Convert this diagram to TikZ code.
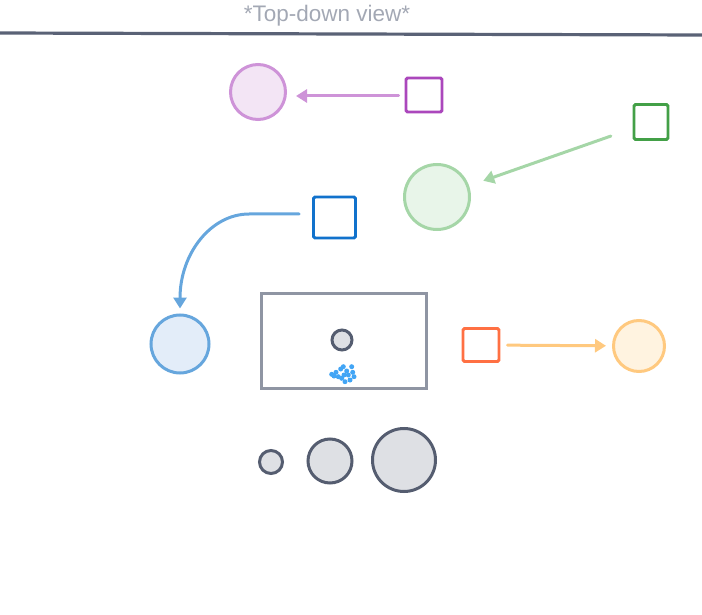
\documentclass[tikz,border=0pt]{standalone}
\usepackage{fontspec}
\setmainfont{Liberation Sans}
\usetikzlibrary{arrows.meta}
\definecolor{titlegray}{HTML}{A3A8B4}
\definecolor{linegray}{HTML}{5A6276}
\definecolor{rectgray}{HTML}{8F95A3}
\definecolor{dotblue}{HTML}{42A5F5}
\definecolor{pstroke}{HTML}{CE93D8}
\definecolor{pfill}{HTML}{F3E5F5}
\definecolor{psq}{HTML}{AB47BC}
\definecolor{gstroke}{HTML}{A5D6A7}
\definecolor{gfill}{HTML}{E8F5E9}
\definecolor{gsq}{HTML}{43A047}
\definecolor{bstroke}{HTML}{66A6DD}
\definecolor{bfill}{HTML}{E3EDF9}
\definecolor{bsq}{HTML}{1172CC}
\definecolor{ostroke}{HTML}{FFC97F}
\definecolor{ofill}{HTML}{FFF3E0}
\definecolor{osq}{HTML}{FF7043}
\definecolor{cfill}{HTML}{DEE0E4}
\definecolor{cstroke}{HTML}{555D70}
\tikzset{
  disc/.style={circle, draw, line width=3pt, inner sep=0pt},
  sqbox/.style={rectangle, draw, line width=2.9pt, fill=white, inner sep=0pt, rounded corners=1.5pt},
  conn/.style={line width=3pt, line cap=round, -{Triangle[length=11pt,width=13pt]}},
  seat/.style={disc, fill=cfill, draw=cstroke},
  blob/.style={circle, fill=dotblue, inner sep=0pt, minimum size=5pt}
}
\begin{document}
\begin{tikzpicture}[x=1pt,y=-1pt]
\useasboundingbox (0,0) rectangle (702,615);
% title and wall line
\node[text=titlegray, font=\fontsize{22.5}{24}\selectfont, anchor=base] (title) at (327,22) {*Top-down view*};
\coordinate (wl) at (0,33);
\coordinate (wr) at (702,35);
\draw[linegray, line width=3.2pt] (wl) -- (wr);
% table
\node[rectangle, draw=rectgray, line width=3pt, minimum width=165pt, minimum height=95pt, inner sep=0pt] (tbl) at (343.5,340.5) {};
\node[seat, minimum size=20pt] (cup) at (342,340) {};
\foreach \i/\x/\y in {1/331.7/374.3, 2/336/372.3, 3/338.3/376.7, 4/340.7/369, 5/343.3/366.7, 6/346.7/371, 7/348.3/375, 8/351.7/366.7, 9/352.7/372.3, 10/354/376.7, 11/350/380, 12/345/381.7, 13/341.7/378.3, 14/334/376, 15/344/375}
  \node[blob] (dot\i) at (\x,\y) {};
% bottom circles
\node[seat, minimum size=23pt] (s1) at (271,462) {};
\node[seat, minimum size=44pt] (s2) at (330,461) {};
\node[seat, minimum size=63pt] (s3) at (404,460) {};
% purple
\node[disc, draw=pstroke, fill=pfill, minimum size=55pt] (pc) at (258,92) {};
\node[sqbox, draw=psq, minimum width=36pt, minimum height=34pt] (ps) at (424,95) {};
\path (ps.west) ++(-6,1) coordinate (pstart);
\path (pc.east |- ps.west) ++(9,1) coordinate (pend);
\draw[conn, pstroke] (pstart) -- (pend);
% green
\node[disc, draw=gstroke, fill=gfill, minimum size=65pt] (gc) at (437,197) {};
\node[sqbox, draw=gsq, minimum width=34pt, minimum height=35pt] (gs) at (651,122) {};
\draw[conn, gstroke, shorten <=23pt, shorten >=15pt] (gs) -- (gc);
% blue
\node[disc, draw=bstroke, fill=bfill, minimum size=58pt] (bc) at (180,344) {};
\node[sqbox, draw=bsq, minimum width=42pt, minimum height=41pt] (bs) at (334.5,217.5) {};
\draw[conn, bstroke] ([xshift=-13pt,yshift=3.5pt]bs.west) -- ++(-50,0) .. controls +(-38,0) and +(0,-55) .. ([yshift=5pt]bc.north);
% orange
\node[disc, draw=ostroke, fill=ofill, minimum size=51pt] (oc) at (639,346) {};
\node[sqbox, draw=osq, minimum width=36pt, minimum height=33pt] (os) at (481,345) {};
\draw[conn, ostroke, shorten <=7pt, shorten >=6pt] (os) -- (oc);
\end{tikzpicture}
\end{document}
